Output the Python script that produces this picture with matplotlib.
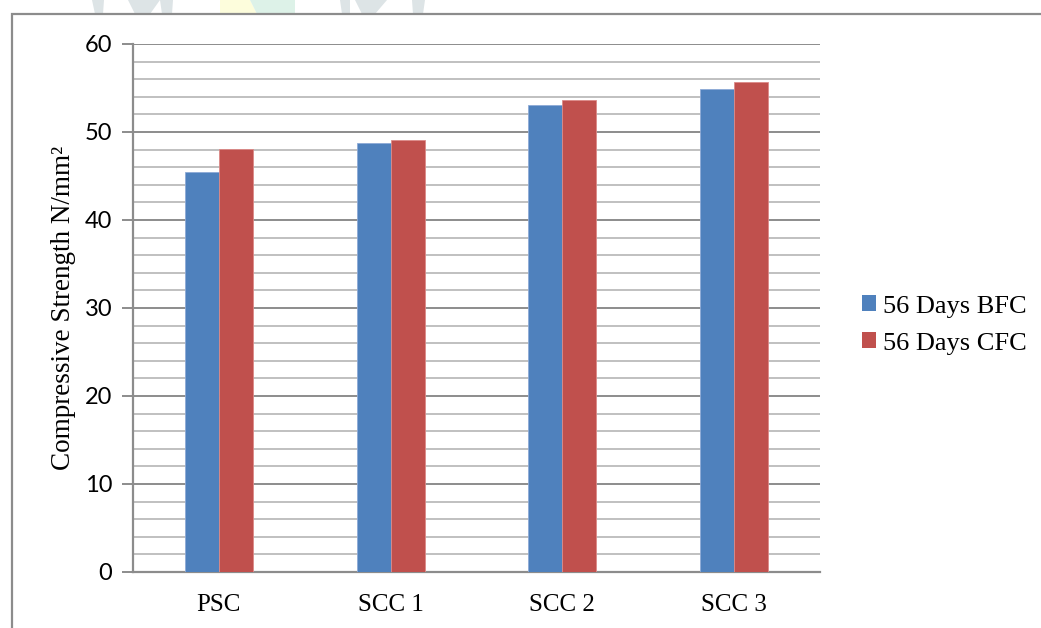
import matplotlib
matplotlib.use("Agg")
import matplotlib.pyplot as plt
from matplotlib.patches import Rectangle, Polygon
from matplotlib.ticker import MultipleLocator
import numpy as np

categories = ["PSC", "SCC 1", "SCC 2", "SCC 3"]
bfc_56 = [45.4, 48.7, 53.1, 54.85]
cfc_56 = [48.1, 49.05, 53.6, 55.65]
series_names = ["56 Days BFC", "56 Days CFC"]
y_ticks = [0, 10, 20, 30, 40, 50, 60]

BLUE = "#4f81bd"
RED = "#c0504d"
SERIF = "Liberation Serif"
SANS = "Lato"

W, H = 1041, 628
fig = plt.figure(figsize=(W / 100, H / 100), dpi=100)
fig.patch.set_facecolor("white")

# faint background emblem peeking above the frame
def fpoly(pts, color):
    fig.patches.append(Polygon([(x / W, 1 - y / H) for x, y in pts], closed=True,
                               transform=fig.transFigure, facecolor=color,
                               edgecolor="none", zorder=0))

fpoly([(92, 0), (104, 0), (103, 14), (95, 14)], "#dde4e6")
fpoly([(128, 0), (160, 0), (150, 14), (135, 14)], "#dde4e6")
fpoly([(160, 0), (173, 0), (172, 14), (162, 14)], "#dde4e6")
fpoly([(220, 0), (250, 0), (257, 14), (220, 14)], "#fdfddc")
fpoly([(250, 0), (295, 0), (295, 14), (257, 14)], "#ddf2e8")
fpoly([(340, 0), (350, 0), (350, 14), (342, 14)], "#dde4e6")
fpoly([(355, 0), (387, 0), (375, 14), (362, 14)], "#dde4e6")
fpoly([(412, 0), (425, 0), (423, 14), (413, 14)], "#dde4e6")

# chart frame
fig.patches.append(Rectangle((12 / W, -0.01), 1.02, 1 - 14 / H + 0.01,
                             transform=fig.transFigure, facecolor="white",
                             edgecolor="#8c8c8c", linewidth=1.6, zorder=1))

ax = fig.add_axes([133 / W, 1 - 572 / H, (820 - 133) / W, (572 - 44) / H])
ax.set_facecolor("none")
ax.set_zorder(2)

x = np.arange(len(categories))
bw = 0.198
ax.bar(x - bw / 2, bfc_56, width=bw, color=BLUE, edgecolor="#8eaad6",
       linewidth=0.6, zorder=3, label=series_names[0])
ax.bar(x + bw / 2, cfc_56, width=bw, color=RED, edgecolor="#dc8a88",
       linewidth=0.6, zorder=3, label=series_names[1])

ax.set_xlim(-0.5, len(categories) - 0.5)
ax.set_ylim(0, 60)
ax.yaxis.set_minor_locator(MultipleLocator(2))
ax.set_yticks(y_ticks)
ax.grid(axis="y", which="minor", color="#c0c0c0", linewidth=1.4, zorder=1)
ax.grid(axis="y", which="major", color="#8c8c8c", linewidth=1.4, zorder=1)
ax.set_axisbelow(True)

for side in ("top", "right"):
    ax.spines[side].set_visible(False)
for side in ("left", "bottom"):
    ax.spines[side].set_color("#8c8c8c")
    ax.spines[side].set_linewidth(1.6)

ax.tick_params(axis="y", which="major", length=8, width=1.4, color="#8c8c8c",
               labelsize=17, pad=7)
ax.tick_params(axis="y", which="minor", length=0)
ax.tick_params(axis="x", length=0, pad=16)
for lbl in ax.get_yticklabels():
    lbl.set_fontfamily(SANS)

ax.set_xticks(x)
ax.set_xticklabels(categories, fontfamily=SERIF, fontsize=18)

ax.set_ylabel("Compressive Strength N/mm²", fontfamily=SERIF, fontsize=19.5,
              labelpad=6)

handles = [Rectangle((0, 0), 1, 1, facecolor=BLUE, edgecolor="none"),
           Rectangle((0, 0), 1, 1, facecolor=RED, edgecolor="none")]
fig.legend(handles, series_names, loc="center left",
           bbox_to_anchor=(838 / W, 1 - 325 / H), frameon=False,
           prop={"family": SERIF, "size": 19}, handlelength=0.55,
           handleheight=0.55, handletextpad=0.25, labelspacing=0.55)

fig.savefig("out.png", dpi=100, facecolor="white")
